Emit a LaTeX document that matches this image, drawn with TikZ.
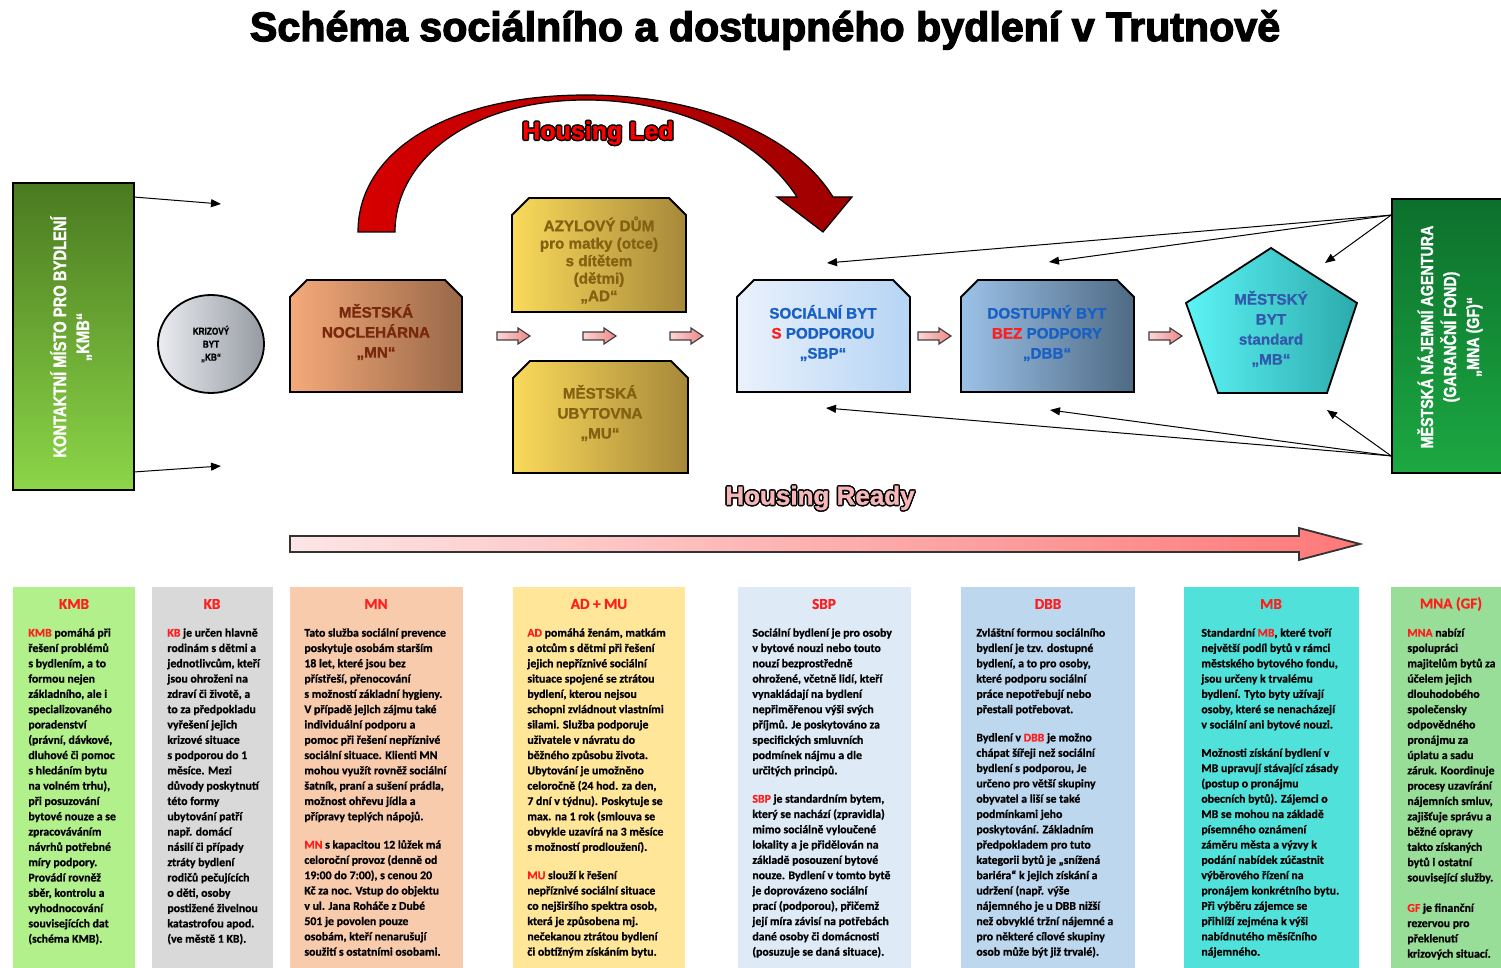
\documentclass[tikz,border=0pt]{standalone}
\usepackage{fontspec}
\setmainfont{Liberation Sans}[FakeBold=1.2]
\newfontfamily\narrowbf{Liberation Sans}[FakeStretch=0.82,FakeBold=1.2]
\newfontfamily\calib{Carlito}[FakeBold=0.8]
\newfontfamily\heavy{Liberation Sans}[FakeBold=3]
\usetikzlibrary{arrows.meta,shapes.geometric,fit,calc}
\definecolor{hred}{RGB}{255,30,30}
\definecolor{kmbT}{RGB}{74,122,32}
\definecolor{kmbB}{RGB}{140,214,72}
\definecolor{mnaT}{RGB}{12,112,44}
\definecolor{mnaB}{RGB}{28,168,66}
\definecolor{kbL}{RGB}{234,236,240}
\definecolor{kbR}{RGB}{150,154,162}
\definecolor{mnL}{RGB}{246,170,122}
\definecolor{mnR}{RGB}{152,104,72}
\definecolor{adL}{RGB}{250,218,90}
\definecolor{adR}{RGB}{166,136,58}
\definecolor{sbpL}{RGB}{234,242,252}
\definecolor{sbpR}{RGB}{182,212,244}
\definecolor{dbbL}{RGB}{156,194,232}
\definecolor{dbbR}{RGB}{78,106,132}
\definecolor{mbL}{RGB}{92,244,246}
\definecolor{mbR}{RGB}{44,170,172}
\definecolor{mntext}{RGB}{120,40,12}
\definecolor{adtext}{RGB}{130,98,18}
\definecolor{bluetext}{RGB}{24,96,196}
\definecolor{mbtext}{RGB}{50,90,170}
\definecolor{pinkL}{RGB}{252,214,214}
\definecolor{pinkR}{RGB}{238,136,136}
\definecolor{hrL}{RGB}{253,230,230}
\definecolor{hrR}{RGB}{255,120,120}
\definecolor{ledL}{RGB}{214,0,0}
\definecolor{ledR}{RGB}{158,0,0}
\definecolor{readyfill}{RGB}{244,182,182}
\definecolor{cKMB}{RGB}{178,240,140}
\definecolor{cKB}{RGB}{217,217,217}
\definecolor{cMN}{RGB}{248,203,173}
\definecolor{cAD}{RGB}{255,230,153}
\definecolor{cSBP}{RGB}{222,235,247}
\definecolor{cDBB}{RGB}{189,215,238}
\definecolor{cMB}{RGB}{80,226,218}
\definecolor{cMNA}{RGB}{152,222,152}
\newcommand\chambox[6]{%
  \shadedraw[boxborder,#6] (#2,#5) -- (#2,#3+17) -- (#2+17,#3) -- (#4-17,#3) -- (#4,#3+17) -- (#4,#5) -- cycle;
  \node[fit={(#2,#3) (#4,#5)}, inner sep=0] (#1) {};}
\newcommand\barrow[3]{%
  \shadedraw[pinkarrow] (#2,#3-4) -- (#2+21,#3-4) -- (#2+21,#3-8) -- (#2+33,#3) -- (#2+21,#3+8) -- (#2+21,#3+4) -- (#2,#3+4) -- cycle;
  \coordinate (#1) at (#2+16,#3);}
\newcommand\outlinedtext[5]{%
  \foreach \ang in {0,45,...,315}{\node[font=#3, text=black, inner sep=0] at ($(#2)+(\ang:0.75pt)$) {#5};}
  \node[font=#3, text=#4, inner sep=0] (#1) at (#2) {#5};}
\begin{document}
\begin{tikzpicture}[x=0.5pt,y=-0.5pt,
  boxborder/.style={draw=black, line width=0.9pt},
  thinarrow/.style={draw=black, line width=0.5pt, -{Triangle[length=5pt,width=4pt]}},
  lbl/.style={align=center, inner sep=0, font=\bfseries\fontsize{7.6}{10}\selectfont},
  coltext/.style={anchor=north west, align=left, inner sep=0, font=\calib\bfseries\fontsize{5.9}{7.65}\selectfont},
  colhead/.style={inner sep=0, text=hred, font=\calib\bfseries\fontsize{7.6}{9}\selectfont},
  colbox/.style={inner sep=0, draw=none},
  pinkarrow/.style={left color=pinkL, right color=pinkR, draw=black!75, line width=0.6pt},
  rotlbl/.style={rotate=90, align=center, text=white, inner sep=0}]
\useasboundingbox (0,0) rectangle (1501,968);
\fill[white] (0,0) rectangle (1501,968);

% title
\node[inner sep=0, font=\heavy\bfseries\fontsize{20.6}{23}\selectfont] (title) at (765,30) {Schéma sociálního a dostupného bydlení v Trutnově};

% Housing Led arc
\shadedraw[left color=ledL, right color=ledR, draw=black, line width=0.6pt]
  (358,232) .. controls (358,150) and (450,95) .. (586,95)
  .. controls (700,95) and (795,135) .. (833,197)
  -- (852,197) -- (823,232) -- (777,197) -- (797,197)
  .. controls (760,140) and (680,100) .. (586,100)
  .. controls (470,100) and (395,160) .. (395,232) -- cycle;
\outlinedtext{ledtext}{598,133}{\bfseries\fontsize{12.5}{14}\selectfont}{red}{Housing Led}

% KMB
\node[fit={(13,183) (134,490)}, inner sep=0, boxborder, top color=kmbT, bottom color=kmbB] (kmb) {};
\node[rotlbl, font=\narrowbf\bfseries\fontsize{9}{11.5}\selectfont] (kmbt) at (71,337) {KONTAKTNÍ MÍSTO PRO BYDLENÍ\\„KMB“};

% MNA
\node[fit={(1392,199) (1512,473)}, inner sep=0, boxborder, top color=mnaT, bottom color=mnaB] (mna) {};
\node[rotlbl, font=\narrowbf\bfseries\fontsize{8.7}{11.5}\selectfont] (mnat) at (1450,337) {MĚSTSKÁ NÁJEMNÍ AGENTURA\\(GARANČNÍ FOND)\\„MNA (GF)“};

% KB
\node[ellipse, boxborder, left color=kbL, right color=kbR, minimum width=53pt, minimum height=49pt, inner sep=0, align=center, font=\narrowbf\bfseries\fontsize{5}{6.5}\selectfont] (kb) at (211,344) {KRIZOVÝ\\BYT\\„KB“};

% chamfered boxes
\chambox{mn}{290}{280}{462}{392}{left color=mnL, right color=mnR}
\node[lbl, text=mntext] (mnt) at (376,332) {MĚSTSKÁ\\NOCLEHÁRNA\\„MN“};
\chambox{ad}{512}{198}{686}{312}{left color=adL, right color=adR}
\node[lbl, text=adtext, font=\bfseries\fontsize{7.6}{8.75}\selectfont] (adt) at (599,260) {AZYLOVÝ DŮM\\pro matky (otce)\\s dítětem\\(dětmi)\\„AD“};
\chambox{mu}{513}{361}{688}{473}{left color=adL, right color=adR}
\node[lbl, text=adtext] (mut) at (600,413) {MĚSTSKÁ\\UBYTOVNA\\„MU“};
\chambox{sbp}{737}{280}{910}{392}{left color=sbpL, right color=sbpR}
\node[lbl, text=bluetext] (sbpt) at (823,333) {SOCIÁLNÍ BYT\\\textcolor{hred}{S} PODPOROU\\„SBP“};
\chambox{dbb}{961}{280}{1134}{392}{left color=dbbL, right color=dbbR}
\node[lbl, text=bluetext] (dbbt) at (1047,333) {DOSTUPNÝ BYT\\\textcolor{hred}{BEZ} PODPORY\\„DBB“};

% MB pentagon
\shadedraw[boxborder, left color=mbL, right color=mbR] (1271,248) -- (1357,303) -- (1327,393) -- (1218,393) -- (1186,303) -- cycle;
\node[fit={(1186,248) (1357,393)}, inner sep=0] (mb) {};
\node[lbl, text=mbtext] (mbt) at (1271,329) {MĚSTSKÝ\\BYT\\standard\\„MB“};

% small block arrows
\barrow{a1}{497}{336}
\barrow{a2}{583}{336}
\barrow{a3}{670}{336}
\barrow{a4}{918}{336}
\barrow{a5}{1149}{336}

% thin arrows
\coordinate (kmbOutA) at (221,204);
\coordinate (kmbOutB) at (221,466);
\draw[thinarrow] ([yshift=-7.5pt]kmb.north east) -- (kmbOutA);
\draw[thinarrow] ([yshift=9.5pt]kmb.south east) -- (kmbOutB);
\coordinate (sbpIn) at (827,263);
\coordinate (dbbIn) at (1049,262);
\coordinate (mbIn) at (1325,263);
\coordinate (sbpIn2) at (826,408);
\coordinate (dbbIn2) at (1050,410);
\coordinate (mbIn2) at (1327,410);
\draw[thinarrow] ([yshift=-8.5pt]mna.north west) -- (sbpIn);
\draw[thinarrow] ([yshift=-8.5pt]mna.north west) -- (dbbIn);
\draw[thinarrow] ([yshift=-8.5pt]mna.north west) -- (mbIn);
\draw[thinarrow] ([yshift=9pt]mna.south west) -- (sbpIn2);
\draw[thinarrow] ([yshift=9pt]mna.south west) -- (dbbIn2);
\draw[thinarrow] ([yshift=9pt]mna.south west) -- (mbIn2);

% Housing Ready
\outlinedtext{readytext}{820,498}{\bfseries\fontsize{13}{15}\selectfont}{readyfill}{Housing Ready}
\shadedraw[left color=hrL, right color=hrR, draw=black!80, line width=0.9pt] (290,536) -- (1299,536) -- (1299,528) -- (1360,544) -- (1299,560) -- (1299,552) -- (290,552) -- cycle;

% bottom columns
\node[colbox, fill=cKMB, fit={(13,587) (135,975)}] (cKMB) {};
\node[colbox, fill=cKB, fit={(152,587) (273,975)}] (cKB) {};
\node[colbox, fill=cMN, fit={(290,587) (463,975)}] (cMN) {};
\node[colbox, fill=cAD, fit={(513,587) (685,975)}] (cAD) {};
\node[colbox, fill=cSBP, fit={(738,587) (911,975)}] (cSBP) {};
\node[colbox, fill=cDBB, fit={(961,587) (1135,975)}] (cDBB) {};
\node[colbox, fill=cMB, fit={(1184,587) (1359,975)}] (cMB) {};
\node[colbox, fill=cMNA, fit={(1391,587) (1510,975)}] (cMNA) {};

\node[colhead] (hKMB) at (74,604) {KMB};
\node[colhead] (hKB) at (212,604) {KB};
\node[colhead] (hMN) at (376,604) {MN};
\node[colhead] (hAD) at (599,604) {AD + MU};
\node[colhead] (hSBP) at (824,604) {SBP};
\node[colhead] (hDBB) at (1048,604) {DBB};
\node[colhead] (hMB) at (1271,604) {MB};
\node[colhead] (hMNA) at (1451,604) {MNA (GF)};

\node[coltext] (tKMB) at (28,628) {\textcolor{hred}{KMB} pomáhá při\\řešení problémů\\s bydlením, a to\\formou nejen\\základního, ale i\\specializovaného\\poradenství\\(právní, dávkové,\\dluhové či pomoc\\s hledáním bytu\\na volném trhu),\\při posuzování\\bytové nouze a se\\zpracováváním\\návrhů potřebné\\míry podpory.\\Provádí rovněž\\sběr, kontrolu a\\vyhodnocování\\souvisejících dat\\(schéma KMB).};

\node[coltext] (tKB) at (167,628) {\textcolor{hred}{KB} je určen hlavně\\rodinám s dětmi a\\jednotlivcům, kteří\\jsou ohroženi na\\zdraví či životě, a\\to za předpokladu\\vyřešení jejich\\krizové situace\\s podporou do 1\\měsíce. Mezi\\důvody poskytnutí\\této formy\\ubytování patří\\např. domácí\\násilí či případy\\ztráty bydlení\\rodičů pečujících\\o děti, osoby\\postižené živelnou\\katastrofou apod.\\(ve městě 1 KB).};

\node[coltext] (tMN) at (304,628) {Tato služba sociální prevence\\poskytuje osobám starším\\18 let, které jsou bez\\přístřeší, přenocování\\s možností základní hygieny.\\V případě jejich zájmu také\\individuální podporu a\\pomoc při řešení nepříznivé\\sociální situace. Klienti MN\\mohou využít rovněž sociální\\šatník, praní a sušení prádla,\\možnost ohřevu jídla a\\přípravy teplých nápojů.\\[6.5pt]\textcolor{hred}{MN} s kapacitou 12 lůžek má\\celoroční provoz (denně od\\19:00 do 7:00), s cenou 20\\Kč za noc. Vstup do objektu\\v ul. Jana Roháče z Dubé\\501 je povolen pouze\\osobám, kteří nenarušují\\soužití s ostatními osobami.};

\node[coltext] (tAD) at (527,628) {\textcolor{hred}{AD} pomáhá ženám, matkám\\a otcům s dětmi při řešení\\jejich nepříznivé sociální\\situace spojené se ztrátou\\bydlení, kterou nejsou\\schopni zvládnout vlastními\\silami. Služba podporuje\\uživatele v návratu do\\běžného způsobu života.\\Ubytování je umožněno\\celoročně (24 hod. za den,\\7 dní v týdnu). Poskytuje se\\max. na 1 rok (smlouva se\\obvykle uzavírá na 3 měsíce\\s možností prodloužení).\\[6.5pt]\textcolor{hred}{MU} slouží k řešení\\nepříznivé sociální situace\\co nejširšího spektra osob,\\která je způsobena mj.\\nečekanou ztrátou bydlení\\či obtížným získáním bytu.};

\node[coltext] (tSBP) at (752,628) {Sociální bydlení je pro osoby\\v bytové nouzi nebo touto\\nouzí bezprostředně\\ohrožené, včetně lidí, kteří\\vynakládají na bydlení\\nepřiměřenou výši svých\\příjmů. Je poskytováno za\\specifických smluvních\\podmínek nájmu a dle\\určitých principů.\\[6.5pt]\textcolor{hred}{SBP} je standardním bytem,\\který se nachází (zpravidla)\\mimo sociálně vyloučené\\lokality a je přidělován na\\základě posouzení bytové\\nouze. Bydlení v tomto bytě\\je doprovázeno sociální\\prací (podporou), přičemž\\její míra závisí na potřebách\\dané osoby či domácnosti\\(posuzuje se daná situace).};

\node[coltext] (tDBB) at (976,628) {Zvláštní formou sociálního\\bydlení je tzv. dostupné\\bydlení, a to pro osoby,\\které podporu sociální\\práce nepotřebují nebo\\přestali potřebovat.\\[6.5pt]Bydlení v \textcolor{hred}{DBB} je možno\\chápat šířeji než sociální\\bydlení s podporou, Je\\určeno pro větší skupiny\\obyvatel a liší se také\\podmínkami jeho\\poskytování. Základním\\předpokladem pro tuto\\kategorii bytů je „snížená\\bariéra“ k jejich získání a\\udržení (např. výše\\nájemného je u DBB nižší\\než obvyklé tržní nájemné a\\pro některé cílové skupiny\\osob může být již trvalé).};

\node[coltext] (tMB) at (1201,628) {Standardní \textcolor{hred}{MB}, které tvoří\\největší podíl bytů v rámci\\městského bytového fondu,\\jsou určeny k trvalému\\bydlení. Tyto byty užívají\\osoby, které se nenacházejí\\v sociální ani bytové nouzi.\\[6.5pt]Možnosti získání bydlení v\\MB upravují stávající zásady\\(postup o pronájmu\\obecních bytů). Zájemci o\\MB se mohou na základě\\písemného oznámení\\záměru města a výzvy k\\podání nabídek zúčastnit\\výběrového řízení na\\pronájem konkrétního bytu.\\Při výběru zájemce se\\přihlíží zejména k výši\\nabídnutého měsíčního\\nájemného.};

\node[coltext] (tMNA) at (1407,628) {\textcolor{hred}{MNA} nabízí\\spolupráci\\majitelům bytů za\\účelem jejich\\dlouhodobého\\společensky\\odpovědného\\pronájmu za\\úplatu a sadu\\záruk. Koordinuje\\procesy uzavírání\\nájemních smluv,\\zajišťuje správu a\\běžné opravy\\takto získaných\\bytů i ostatní\\související služby.\\[7.5pt]\textcolor{hred}{GF} je finanční\\rezervou pro\\překlenutí\\krizových situací.};
\end{tikzpicture}
\end{document}
